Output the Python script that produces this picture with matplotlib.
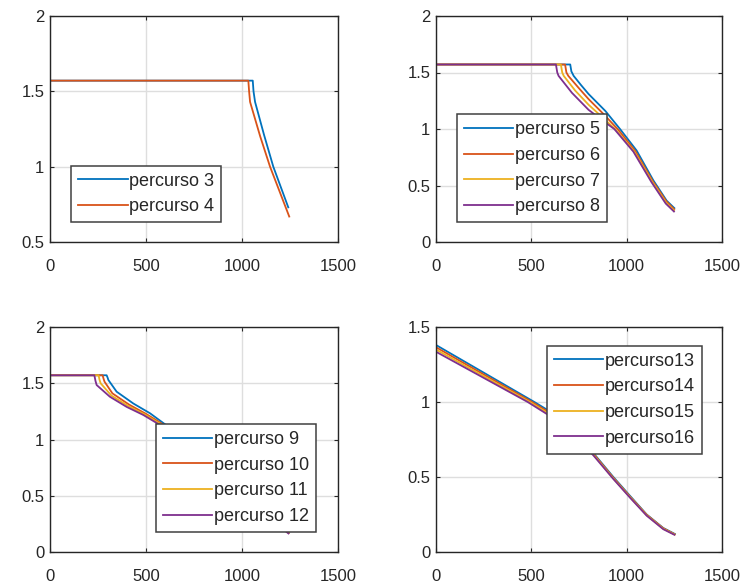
import numpy as np
import matplotlib
matplotlib.use("Agg")
import matplotlib.pyplot as plt
from matplotlib.ticker import FormatStrFormatter

# MATLAB default colour order
colors = ["#0072BD", "#D95319", "#EDB120", "#7E2F8E"]

# panel 1 (percurso 3, 4)
p1_labels = ["percurso 3", "percurso 4"]
p1_x3 = [0, 1056, 1060, 1068, 1115, 1163, 1241]
p1_y3 = [1.571, 1.571, 1.50, 1.43, 1.21, 1.0, 0.73]
p1_x4 = [0, 1033, 1037, 1042, 1095, 1146, 1246]
p1_y4 = [1.571, 1.571, 1.50, 1.43, 1.20, 1.0, 0.669]

# panel 2 (percurso 5..8)
p2_labels = ["percurso 5", "percurso 6", "percurso 7", "percurso 8"]
p2_x5 = [0, 704, 710, 722, 760, 800, 888, 965, 1052, 1140, 1210, 1250]
p2_y5 = [1.571, 1.571, 1.51, 1.47, 1.39, 1.31, 1.16, 1.0, 0.81, 0.545, 0.365, 0.30]
p2_x6 = [0, 677, 684, 694, 750, 800, 880, 955, 1045, 1136, 1208, 1249]
p2_y6 = [1.571, 1.571, 1.50, 1.47, 1.36, 1.265, 1.13, 0.995, 0.805, 0.54, 0.36, 0.29]
p2_x7 = [0, 655, 662, 670, 730, 800, 875, 945, 1040, 1133, 1206, 1248]
p2_y7 = [1.571, 1.571, 1.50, 1.47, 1.34, 1.215, 1.10, 0.99, 0.80, 0.535, 0.35, 0.28]
p2_x8 = [0, 629, 636, 643, 713, 800, 870, 935, 1035, 1130, 1205, 1248]
p2_y8 = [1.571, 1.571, 1.50, 1.47, 1.32, 1.17, 1.08, 1.0, 0.80, 0.53, 0.34, 0.27]

# panel 3 (percurso 9..12)
p3_labels = ["percurso 9", "percurso 10", "percurso 11", "percurso 12"]
p3_x9 = [0, 295, 300, 304, 347, 434, 521, 604, 700, 800, 900, 1000, 1100, 1200, 1245]
p3_y9 = [1.571, 1.571, 1.55, 1.529, 1.425, 1.32, 1.233, 1.129, 1.01, 0.87, 0.72, 0.56, 0.39, 0.23, 0.175]
p3_x10 = [0, 274, 279, 284, 325, 412, 500, 594, 700, 800, 900, 1000, 1100, 1200, 1244]
p3_y10 = [1.571, 1.571, 1.54, 1.514, 1.41, 1.31, 1.228, 1.129, 1.003, 0.863, 0.713, 0.555, 0.387, 0.227, 0.172]
p3_x11 = [0, 253, 258, 264, 320, 405, 493, 584, 700, 800, 900, 1000, 1100, 1200, 1243]
p3_y11 = [1.571, 1.571, 1.53, 1.499, 1.39, 1.30, 1.223, 1.129, 0.997, 0.857, 0.707, 0.55, 0.384, 0.224, 0.169]
p3_x12 = [0, 231, 237, 243, 312, 399, 486, 573, 700, 800, 900, 1000, 1100, 1200, 1242]
p3_y12 = [1.571, 1.571, 1.52, 1.484, 1.38, 1.29, 1.218, 1.129, 0.99, 0.85, 0.70, 0.545, 0.38, 0.22, 0.165]

# panel 4 (percurso 13..16)
p4_labels = ["percurso13", "percurso14", "percurso15", "percurso16"]
p4_x13 = [0, 516, 600, 700, 825, 930, 1017, 1105, 1192, 1253]
p4_y13 = [1.38, 1.0, 0.935, 0.83, 0.66, 0.50, 0.375, 0.25, 0.16, 0.12]
p4_x14 = [0, 504, 600, 700, 825, 930, 1017, 1105, 1192, 1252]
p4_y14 = [1.365, 1.0, 0.925, 0.82, 0.655, 0.495, 0.37, 0.248, 0.158, 0.118]
p4_x15 = [0, 492, 600, 700, 825, 930, 1017, 1105, 1192, 1251]
p4_y15 = [1.35, 1.0, 0.915, 0.815, 0.65, 0.49, 0.367, 0.245, 0.155, 0.117]
p4_x16 = [0, 481, 600, 700, 825, 930, 1017, 1105, 1192, 1250]
p4_y16 = [1.335, 1.0, 0.905, 0.81, 0.645, 0.487, 0.363, 0.242, 0.152, 0.115]

xticks = [0, 500, 1000, 1500]

plt.rcParams["font.family"] = ["Liberation Sans", "DejaVu Sans"]
plt.rcParams["axes.edgecolor"] = "#262626"

fig = plt.figure(figsize=(7.44, 5.88), dpi=100)
W, H = 744.0, 588.0
boxes = [(50, 16, 288, 226), (436, 16, 286, 226),
         (50, 327, 288, 225), (436, 327, 286, 225)]


def make_ax(box, ylim, yticks):
    l, t, w, h = box
    ax = fig.add_axes([l / W, 1 - (t + h) / H, w / W, h / H])
    ax.set_xlim(0, 1500)
    ax.set_ylim(*ylim)
    ax.set_xticks(xticks)
    ax.set_yticks(yticks)
    ax.yaxis.set_major_formatter(FormatStrFormatter("%g"))
    ax.grid(True, color="#dedede", linewidth=1.0)
    ax.set_axisbelow(True)
    ax.tick_params(direction="in", length=3, width=0.8, top=True, right=True,
                   labelsize=12, colors="#262626")
    ax.tick_params(axis="x", pad=12)
    ax.tick_params(axis="y", pad=4)
    for s in ax.spines.values():
        s.set_linewidth(1.0)
    return ax


def add_legend(ax, labels, loc, anchor):
    leg = ax.legend(labels, loc=loc, bbox_to_anchor=anchor, borderaxespad=0,
                    fontsize=13, handlelength=2.75, handletextpad=0.1,
                    labelspacing=0.48, borderpad=0.38, fancybox=False,
                    framealpha=1, edgecolor="#404040")
    leg.get_frame().set_linewidth(1.1)
    for t in leg.get_texts():
        t.set_color("#262626")


lw = 1.3

ax1 = make_ax(boxes[0], (0.5, 2), [0.5, 1, 1.5, 2])
ax1.plot(p1_x3, p1_y3, color=colors[0], lw=lw)
ax1.plot(p1_x4, p1_y4, color=colors[1], lw=lw)
add_legend(ax1, p1_labels, "lower left", (0.073, 0.088))

ax2 = make_ax(boxes[1], (0, 2), [0, 0.5, 1, 1.5, 2])
for xs, ys, c in zip([p2_x5, p2_x6, p2_x7, p2_x8], [p2_y5, p2_y6, p2_y7, p2_y8], colors):
    ax2.plot(xs, ys, color=c, lw=lw)
add_legend(ax2, p2_labels, "lower left", (0.073, 0.088))

ax3 = make_ax(boxes[2], (0, 2), [0, 0.5, 1, 1.5, 2])
for xs, ys, c in zip([p3_x9, p3_x10, p3_x11, p3_x12], [p3_y9, p3_y10, p3_y11, p3_y12], colors):
    ax3.plot(xs, ys, color=c, lw=lw)
add_legend(ax3, p3_labels, "lower right", (0.924, 0.089))

ax4 = make_ax(boxes[3], (0, 1.5), [0, 0.5, 1, 1.5])
for xs, ys, c in zip([p4_x13, p4_x14, p4_x15, p4_x16], [p4_y13, p4_y14, p4_y15, p4_y16], colors):
    ax4.plot(xs, ys, color=c, lw=lw)
add_legend(ax4, p4_labels, "upper right", (0.930, 0.916))

fig.savefig("out.png", dpi=100)
